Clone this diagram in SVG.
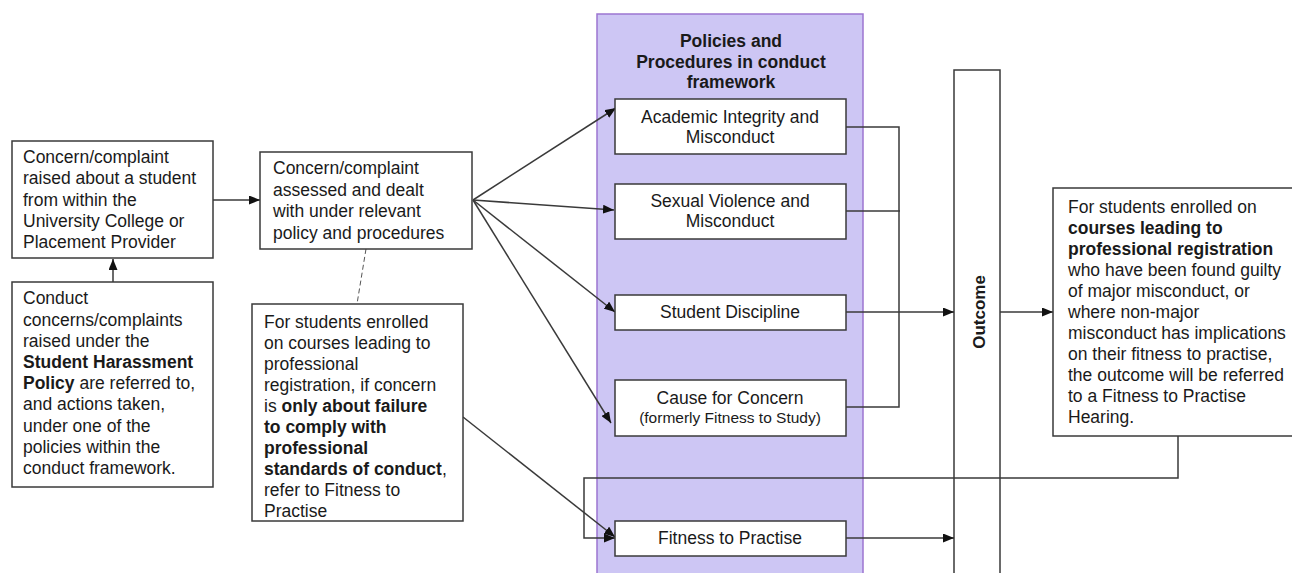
<svg xmlns="http://www.w3.org/2000/svg" width="1292" height="573" viewBox="0 0 1292 573">
<style>
.box{fill:#fff;stroke:#3a3a3a;stroke-width:1.5}
.t{font-family:"Liberation Sans",Arial,sans-serif;font-size:17.5px;fill:#1a1a1a}
.m{text-anchor:middle}
.b{font-weight:bold}
.c{stroke:#3a3a3a;stroke-width:1.5;fill:none}
.a{marker-end:url(#ah)}
</style>
<defs>
<marker id="ah" viewBox="0 0 11 9" refX="11" refY="4.5" markerWidth="11" markerHeight="9" markerUnits="userSpaceOnUse" orient="auto">
<path d="M0,0 L11,4.5 L0,9 z" fill="#111"/>
</marker>
</defs>

<g id="framework">
<rect x="597" y="14" width="266" height="570" fill="#cdc6f4" stroke="#9c75d1" stroke-width="1.5"/>
<text class="t b m" x="731"><tspan x="731" y="47">Policies and</tspan><tspan x="731" y="68">Procedures in conduct</tspan><tspan x="731" y="88">framework</tspan></text>
</g>

<g id="outcome">
<rect class="box" x="954" y="70" width="46" height="520"/>
<text class="t b m" style="font-size:17px" transform="translate(985,312) rotate(-90)">Outcome</text>
</g>

<g id="connectors">
<line class="c a" x1="213" y1="200" x2="260" y2="200"/>
<line class="c a" x1="113" y1="282" x2="113" y2="259"/>
<line class="c a" x1="473" y1="200" x2="616" y2="108"/>
<line class="c a" x1="473" y1="200" x2="614" y2="210"/>
<line class="c a" x1="473" y1="200" x2="615" y2="312"/>
<line class="c a" x1="473" y1="200" x2="611" y2="423"/>
<line class="c a" x1="463" y1="417" x2="615" y2="537"/>
<polyline class="c a" points="1178,436 1178,478 584,478 584,538 615,538"/>
<polyline class="c" points="846,127 899,127 899,407 846,407"/>
<line class="c" x1="846" y1="211" x2="900" y2="211"/>
<line class="c a" x1="846" y1="312" x2="954" y2="312"/>
<line class="c a" x1="846" y1="538" x2="954" y2="538"/>
<line class="c a" x1="1000" y1="312" x2="1053" y2="312"/>
<line class="c" x1="366" y1="249" x2="357" y2="304" stroke-dasharray="5,3" style="stroke:#555;stroke-width:1"/>
</g>

<g id="raised">
<rect class="box" x="12" y="141" width="201" height="117"/>
<text class="t"><tspan x="23" y="163">Concern/complaint</tspan><tspan x="23" y="184">raised about a student</tspan><tspan x="23" y="206">from within the</tspan><tspan x="23" y="227">University College or</tspan><tspan x="23" y="248">Placement Provider</tspan></text>
</g>

<g id="harassment">
<rect class="box" x="12" y="282" width="201" height="205"/>
<text class="t"><tspan x="23" y="304">Conduct</tspan><tspan x="23" y="326">concerns/complaints</tspan><tspan x="23" y="347">raised under the</tspan><tspan x="23" y="368" class="b">Student Harassment</tspan><tspan x="23" y="389"><tspan class="b">Policy</tspan> are referred to,</tspan><tspan x="23" y="410">and actions taken,</tspan><tspan x="23" y="432">under one of the</tspan><tspan x="23" y="453">policies within the</tspan><tspan x="23" y="474">conduct framework.</tspan></text>
</g>

<g id="assessed">
<rect class="box" x="260" y="152" width="212" height="97"/>
<text class="t"><tspan x="273" y="174">Concern/complaint</tspan><tspan x="273" y="196">assessed and dealt</tspan><tspan x="273" y="217">with under relevant</tspan><tspan x="273" y="239">policy and procedures</tspan></text>
</g>

<g id="professional-note">
<rect class="box" x="252" y="304" width="211" height="217"/>
<text class="t"><tspan x="264" y="328">For students enrolled</tspan><tspan x="264" y="349">on courses leading to</tspan><tspan x="264" y="370">professional</tspan><tspan x="264" y="391">registration, if concern</tspan><tspan x="264" y="412">is <tspan class="b">only about failure</tspan></tspan><tspan x="264" y="433" class="b">to comply with</tspan><tspan x="264" y="454" class="b">professional</tspan><tspan x="264" y="475"><tspan class="b">standards of conduct</tspan>,</tspan><tspan x="264" y="496">refer to Fitness to</tspan><tspan x="264" y="517">Practise</tspan></text>
</g>

<g id="academic">
<rect class="box" x="615" y="99" width="231" height="55"/>
<text class="t m"><tspan x="730" y="123">Academic Integrity and</tspan><tspan x="730" y="143">Misconduct</tspan></text>
</g>

<g id="sexual">
<rect class="box" x="615" y="184" width="231" height="55"/>
<text class="t m"><tspan x="730" y="207">Sexual Violence and</tspan><tspan x="730" y="227">Misconduct</tspan></text>
</g>

<g id="discipline">
<rect class="box" x="615" y="295" width="231" height="35"/>
<text class="t m" x="730" y="318">Student Discipline</text>
</g>

<g id="cause">
<rect class="box" x="615" y="380" width="231" height="56"/>
<text class="t m"><tspan x="730" y="404">Cause for Concern</tspan><tspan x="730" y="423" style="font-size:15.5px">(formerly Fitness to Study)</tspan></text>
</g>

<g id="fitness">
<rect class="box" x="615" y="521" width="231" height="35"/>
<text class="t m" x="730" y="544">Fitness to Practise</text>
</g>

<g id="referral">
<rect class="box" x="1053" y="188" width="250" height="248"/>
<text class="t"><tspan x="1068" y="213">For students enrolled on</tspan><tspan x="1068" y="234" class="b">courses leading to</tspan><tspan x="1068" y="255" class="b">professional registration</tspan><tspan x="1068" y="276">who have been found guilty</tspan><tspan x="1068" y="297">of major misconduct, or</tspan><tspan x="1068" y="318">where non-major</tspan><tspan x="1068" y="339">misconduct has implications</tspan><tspan x="1068" y="360">on their fitness to practise,</tspan><tspan x="1068" y="381">the outcome will be referred</tspan><tspan x="1068" y="402">to a Fitness to Practise</tspan><tspan x="1068" y="423">Hearing.</tspan></text>
</g>
</svg>
